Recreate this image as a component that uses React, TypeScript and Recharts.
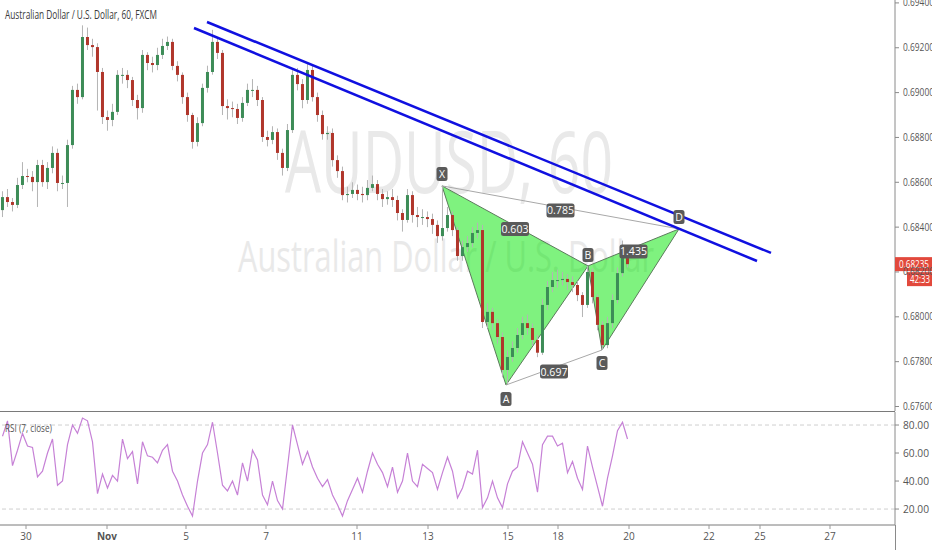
import React from 'react';
import {
  ComposedChart,
  Bar,
  Line,
  Area,
  XAxis,
  YAxis,
  ReferenceLine,
  ReferenceDot,
} from 'recharts';

// AUDUSD, resampled to ~3h bars
const firstOpen = 0.68476;
const closes = [
  0.68534, 0.68512, 0.68499, 0.68588, 0.68628, 0.68624, 0.68601, 0.68677, 0.68601, 0.68664,
  0.68731, 0.68597, 0.68597, 0.68766, 0.69012, 0.6898, 0.69248, 0.69212, 0.69203, 0.69092,
  0.68891, 0.68878, 0.68914, 0.69079, 0.69079, 0.69056, 0.68967, 0.68931, 0.69168, 0.69132,
  0.69123, 0.69168, 0.69208, 0.69226, 0.69119, 0.69079, 0.6898, 0.689, 0.6878, 0.68864,
  0.69021, 0.69092, 0.69226, 0.69177, 0.6894, 0.68931, 0.68927, 0.68887, 0.68954, 0.69012,
  0.69012, 0.68967, 0.68802, 0.68789, 0.68824, 0.68731, 0.68664, 0.68833, 0.69079, 0.69038,
  0.68967, 0.69101, 0.6898, 0.689, 0.68815, 0.6882, 0.68699, 0.6865, 0.68543, 0.68548,
  0.68566, 0.68548, 0.68543, 0.68575, 0.68592, 0.68548, 0.68525, 0.68534, 0.68521, 0.68463,
  0.68432, 0.68543, 0.68454, 0.68445, 0.68445, 0.68436, 0.6841, 0.6836, 0.68396, 0.68454,
  0.68387, 0.68271, 0.68311, 0.68329, 0.68374, 0.68387, 0.67977, 0.68022, 0.67972, 0.6791,
  0.67763, 0.67821, 0.67861, 0.67919, 0.67972, 0.6795, 0.67897, 0.6784, 0.68053, 0.68133,
  0.68164, 0.68164, 0.68169, 0.68155, 0.68142, 0.68097, 0.68053, 0.682, 0.68088, 0.67964,
  0.67874, 0.67972, 0.68075, 0.68195, 0.68262, 0.68235,
];
const highs = [
  0.6856, 0.6857, 0.6853, 0.6862, 0.6869, 0.6866, 0.6865, 0.687, 0.687, 0.6869,
  0.6876, 0.6875, 0.6863, 0.6879, 0.6903, 0.6904, 0.693, 0.6929, 0.6924, 0.6922,
  0.6911, 0.6892, 0.6895, 0.691, 0.6911, 0.691, 0.6907, 0.6899, 0.6919, 0.6918,
  0.6916, 0.692, 0.6924, 0.6925, 0.6924, 0.6914, 0.6909, 0.69, 0.6891, 0.6889,
  0.6904, 0.6912, 0.6928, 0.6924, 0.6919, 0.6897, 0.6896, 0.6895, 0.6898, 0.6904,
  0.6906, 0.6903, 0.6898, 0.6883, 0.6885, 0.6884, 0.6875, 0.6886, 0.691, 0.6911,
  0.6906, 0.69132, 0.6912, 0.69, 0.6892, 0.6885, 0.6884, 0.6872, 0.6867, 0.6858,
  0.686, 0.6859, 0.6858, 0.6861, 0.6863, 0.6861, 0.6857, 0.6856, 0.6857, 0.6854,
  0.6848, 0.6857, 0.6856, 0.6849, 0.6848, 0.6847, 0.6846, 0.6843, 0.68584, 0.6849,
  0.6847, 0.684, 0.6834, 0.6836, 0.684, 0.6842, 0.6841, 0.6806, 0.6804, 0.6799,
  0.6793, 0.6785, 0.6789, 0.6795, 0.68, 0.6801, 0.6797, 0.6792, 0.6808, 0.6816,
  0.682, 0.6821, 0.682, 0.6819, 0.6818, 0.6816, 0.6811, 0.68227, 0.68215, 0.681,
  0.6798, 0.68, 0.681, 0.6822, 0.6834, 0.6829,
];
const lows = [
  0.68445, 0.6849, 0.6847, 0.68485, 0.6857, 0.686, 0.6856, 0.6849, 0.6858, 0.6857,
  0.6864, 0.6856, 0.6857, 0.6849, 0.6875, 0.6895, 0.6897, 0.6919, 0.6916, 0.6892,
  0.6886, 0.6883, 0.6885, 0.689, 0.6904, 0.6902, 0.6894, 0.6888, 0.6891, 0.691,
  0.6909, 0.691, 0.6915, 0.6919, 0.691, 0.6905, 0.6895, 0.6887, 0.6875, 0.6876,
  0.6885, 0.69, 0.6908, 0.6915, 0.689, 0.6888, 0.6889, 0.6886, 0.6887, 0.6894,
  0.6898, 0.6894, 0.6878, 0.6876, 0.6877, 0.687, 0.6863, 0.6865, 0.6882, 0.6901,
  0.6893, 0.6895, 0.6896, 0.6887, 0.6879, 0.6879, 0.6867, 0.6862, 0.6852, 0.6851,
  0.6853, 0.6852, 0.6851, 0.6852, 0.6856, 0.6852, 0.6849, 0.685, 0.6849, 0.6843,
  0.6838, 0.6842, 0.6842, 0.684, 0.6841, 0.684, 0.6837, 0.6833, 0.6834, 0.6838,
  0.6836, 0.6825, 0.6825, 0.6829, 0.6831, 0.6835, 0.6795, 0.6795, 0.6794, 0.6788,
  0.6773, 0.67696, 0.678, 0.6784, 0.679, 0.6792, 0.6787, 0.6782, 0.6783, 0.6803,
  0.6811, 0.6813, 0.6814, 0.6812, 0.6811, 0.6807, 0.67999, 0.6804, 0.6806, 0.6794,
  0.67852, 0.6786, 0.6795, 0.6806, 0.6818, 0.6822,
];
const rsi = [
  72, 83, 51, 62, 74, 65, 64, 43, 47, 60,
  70, 37, 40, 66, 80, 74, 85, 83, 68, 31,
  45, 35, 44, 40, 70, 56, 61, 38, 68, 58,
  57, 53, 62, 66, 47, 40, 30, 22, 15, 40,
  60, 66, 82, 60, 37, 33, 40, 30, 53, 40,
  62, 55, 30, 23, 40, 26, 20, 50, 80, 66,
  52, 61, 50, 42, 36, 41, 30, 23, 15, 26,
  34, 42, 32, 47, 60, 52, 46, 36, 50, 32,
  40, 60, 40, 36, 52, 49, 46, 34, 46, 57,
  47, 28, 35, 47, 45, 62, 21, 28, 40, 28,
  21, 38, 47, 50, 68, 60, 52, 32, 66, 72,
  72, 65, 67, 46, 54, 42, 34, 65, 50, 36,
  22, 42, 58, 76, 82, 70,
];

// time axis (in bar units) and labels
const dayTicks = [5.2, 21.4, 37.2, 53.2, 71.4, 85.6, 101.6, 111.6, 125.8, 141.8, 152, 166];
const dayLabels = ['30', 'Nov', '5', '7', '11', '13', '15', '18', '20', '22', '25', '27'];
const priceTicks = [0.676, 0.678, 0.68, 0.682, 0.684, 0.686, 0.688, 0.69, 0.692, 0.694];
const rsiTicks = [20, 40, 60, 80];

// XABCD pattern (bar position, price)
const patternNames = ['X', 'A', 'B', 'C', 'D'];
const patternIdx = [88.4, 101.2, 117.6, 120.4, 135.8];
const patternPrice = [0.68584, 0.67696, 0.68227, 0.67852, 0.68392];
const ratioXB = '0.603';
const ratioAC = '0.697';
const ratioBD = '1.435';
const ratioXD = '0.785';

// trend lines: [startIdx, startPrice, endIdx, endPrice]
const upperTrend = [41.4, 0.69315, 154.2, 0.68285];
const lowerTrend = [38.8, 0.69288, 151.4, 0.68249];

const lastPrice = 0.68235;
const countdown = '42:33';

const X_DOMAIN: [number, number] = [0, 179];
const UP = '#3d8c57';
const DOWN = '#b0362b';
const WICK = '#b4b4b4';
const FONT = "'Open Sans', 'Liberation Sans', sans-serif";

const candles = closes.map((c, i) => {
  const open = i === 0 ? firstOpen : closes[i - 1];
  return {
    t: i + 0.5,
    open,
    close: c,
    high: highs[i],
    low: lows[i],
    range: [lows[i], highs[i]],
    rsi: rsi[i],
  };
});

const pts = patternIdx.map((t, k) => ({ t, p: patternPrice[k], name: patternNames[k] }));
const [X, A, B, C, D] = pts;
const lerpAt = (a: any, b: any, t: number) => a.p + ((b.p - a.p) * (t - a.t)) / (b.t - a.t);
const tri1 = [
  { t: X.t, band: [X.p, X.p] },
  { t: A.t, band: [A.p, lerpAt(X, B, A.t)] },
  { t: B.t, band: [B.p, B.p] },
];
const tri2 = [
  { t: B.t, band: [B.p, B.p] },
  { t: C.t, band: [C.p, lerpAt(B, D, C.t)] },
  { t: D.t, band: [D.p, D.p] },
];

function Candle(props: any) {
  const { x, y, width, height, payload } = props;
  if (!payload || height == null) return null;
  const { open, close, high, low } = payload;
  const top = Math.min(y, y + height);
  const h = Math.abs(height);
  const k = h / (high - low || 1);
  const cx = x + width / 2;
  const yO = top + (high - open) * k;
  const yC = top + (high - close) * k;
  const bodyTop = Math.min(yO, yC);
  const bodyH = Math.max(1, Math.abs(yO - yC));
  const col = close >= open ? UP : DOWN;
  return (
    <g>
      <line x1={cx} x2={cx} y1={top} y2={top + h} stroke={WICK} strokeWidth={1} />
      <rect x={cx - 1.5} y={bodyTop} width={3} height={bodyH} fill={col} />
    </g>
  );
}

function PriceTick(props: any) {
  const { x, y, payload } = props;
  return (
    <text x={x + 2} y={y + 3.5} fontSize={10} fill="#555" fontFamily={FONT} textLength={31} lengthAdjust="spacingAndGlyphs">
      {payload.value.toFixed(5)}
    </text>
  );
}

function RsiTick(props: any) {
  const { x, y, payload } = props;
  return (
    <text x={x + 2} y={y + 3.5} fontSize={10} fill="#555" fontFamily={FONT} textLength={26} lengthAdjust="spacingAndGlyphs">
      {payload.value.toFixed(2)}
    </text>
  );
}

function DayTick(props: any) {
  const { x, y, payload } = props;
  const k = dayTicks.indexOf(payload.value);
  const label = dayLabels[k] ?? '';
  return (
    <text x={x} y={y + 9} textAnchor="middle" fontSize={10} fill="#555" fontFamily={FONT} fontWeight={label === 'Nov' ? 700 : 400}>
      {label}
    </text>
  );
}

function Tag({ cx, cy, dy, text, w }: any) {
  const h = 14;
  return (
    <g>
      <rect x={cx - w / 2} y={cy + dy - h / 2} width={w} height={h} rx={2.5} fill="#5a5a5a" />
      <text x={cx} y={cy + dy + 4} textAnchor="middle" fontSize={10.5} fill="#fff" fontFamily={FONT}>
        {text}
      </text>
    </g>
  );
}

const letterOffset: Record<string, number> = { X: -12, A: 14, B: -11, C: 13, D: -12 };

function PriceBadge(props: any) {
  const { cx, cy } = props;
  return (
    <g>
      <rect x={cx} y={cy - 7} width={37} height={14} fill="#e2493c" />
      <text x={cx + 4} y={cy + 4} fontSize={10} fill="#fff" fontFamily={FONT} textLength={30} lengthAdjust="spacingAndGlyphs">
        {lastPrice.toFixed(5)}
      </text>
      <rect x={cx + 12} y={cy + 8} width={25} height={14} fill="#e2493c" />
      <text x={cx + 15} y={cy + 19} fontSize={10} fill="#fff" fontFamily={FONT} textLength={20} lengthAdjust="spacingAndGlyphs">
        {countdown}
      </text>
    </g>
  );
}

export default function App() {
  return (
    <div
      style={{
        position: 'absolute',
        left: 0,
        top: 0,
        width: 932,
        height: 550,
        background: '#fff',
        overflow: 'hidden',
        fontFamily: FONT,
      }}
    >
      {/* watermark */}
      <svg width={932} height={411} style={{ position: 'absolute', left: 0, top: 0 }}>
        <text x={285} y={193} fontSize={86} fill="#e9e9e9" fontFamily={FONT} textLength={328} lengthAdjust="spacingAndGlyphs">
          AUDUSD, 60
        </text>
        <text x={238} y={272} fontSize={44} fill="#e9e9e9" fontFamily={FONT} textLength={416} lengthAdjust="spacingAndGlyphs">
          Australian Dollar / U.S. Dollar
        </text>
      </svg>

      <div style={{ position: 'absolute', left: 0, top: 0 }}>
        <ComposedChart width={932} height={411} data={candles} margin={{ top: 0, right: 0, bottom: 0, left: 0 }}>
          <XAxis type="number" dataKey="t" domain={X_DOMAIN} hide allowDataOverflow />
          <YAxis
            orientation="right"
            width={37}
            domain={[0.6758, 0.69413]}
            ticks={priceTicks}
            interval={0}
            allowDataOverflow
            axisLine={{ stroke: '#8a8a8a' }}
            tickLine={{ stroke: '#8a8a8a' }}
            tickSize={4}
            tick={<PriceTick />}
          />
          <Bar dataKey="range" barSize={5} shape={Candle} isAnimationActive={false} />
          <Area
            data={tri1}
            dataKey="band"
            type="linear"
            fill="#00e600"
            fillOpacity={0.5}
            stroke="#5b7a5b"
            strokeWidth={1}
            dot={false}
            activeDot={false}
            isAnimationActive={false}
          />
          <Area
            data={tri2}
            dataKey="band"
            type="linear"
            fill="#00e600"
            fillOpacity={0.5}
            stroke="#5b7a5b"
            strokeWidth={1}
            dot={false}
            activeDot={false}
            isAnimationActive={false}
          />
          <ReferenceLine segment={[{ x: X.t, y: X.p }, { x: D.t, y: D.p }]} stroke="#a8a8a8" strokeWidth={1} />
          <ReferenceLine segment={[{ x: A.t, y: A.p }, { x: C.t, y: C.p }]} stroke="#a8a8a8" strokeWidth={1} />
          <ReferenceLine
            segment={[{ x: upperTrend[0], y: upperTrend[1] }, { x: upperTrend[2], y: upperTrend[3] }]}
            stroke="#1010e0"
            strokeWidth={2.5}
          />
          <ReferenceLine
            segment={[{ x: lowerTrend[0], y: lowerTrend[1] }, { x: lowerTrend[2], y: lowerTrend[3] }]}
            stroke="#1010e0"
            strokeWidth={2.5}
          />
          <ReferenceDot x={(X.t + B.t) / 2} y={(X.p + B.p) / 2} r={0} shape={(p: any) => <Tag cx={p.cx} cy={p.cy} dy={3} text={ratioXB} w={28} />} />
          <ReferenceDot x={(A.t + C.t) / 2} y={(A.p + C.p) / 2} r={0} shape={(p: any) => <Tag cx={p.cx} cy={p.cy} dy={4} text={ratioAC} w={28} />} />
          <ReferenceDot x={(B.t + D.t) / 2} y={(B.p + D.p) / 2} r={0} shape={(p: any) => <Tag cx={p.cx} cy={p.cy} dy={4} text={ratioBD} w={28} />} />
          <ReferenceDot x={(X.t + D.t) / 2} y={(X.p + D.p) / 2} r={0} shape={(p: any) => <Tag cx={p.cx} cy={p.cy} dy={3} text={ratioXD} w={28} />} />
          {pts.map((pt) => (
            <ReferenceDot
              key={pt.name}
              x={pt.t}
              y={pt.p}
              r={0}
              shape={(p: any) => <Tag cx={p.cx} cy={p.cy} dy={letterOffset[pt.name]} text={pt.name} w={11} />}
            />
          ))}
          <ReferenceDot x={X_DOMAIN[1]} y={lastPrice} r={0} shape={PriceBadge} />
        </ComposedChart>
      </div>

      <div style={{ position: 'absolute', left: 0, top: 411, width: 895, height: 1, background: '#7a7a7a' }} />

      <div style={{ position: 'absolute', left: 0, top: 412 }}>
        <ComposedChart width={932} height={138} data={candles} margin={{ top: 0, right: 0, bottom: 0, left: 0 }}>
          <XAxis
            type="number"
            dataKey="t"
            domain={X_DOMAIN}
            allowDataOverflow
            ticks={dayTicks}
            interval={0}
            height={25}
            axisLine={{ stroke: '#7a7a7a' }}
            tickLine={{ stroke: '#9a9a9a' }}
            tickSize={4}
            tick={<DayTick />}
          />
          <YAxis
            orientation="right"
            width={37}
            domain={[8.6, 89.3]}
            ticks={rsiTicks}
            interval={0}
            allowDataOverflow
            axisLine={{ stroke: '#8a8a8a' }}
            tickLine={{ stroke: '#8a8a8a' }}
            tickSize={4}
            tick={<RsiTick />}
          />
          <ReferenceLine y={80} stroke="#cfcfcf" strokeDasharray="4 3" />
          <ReferenceLine y={20} stroke="#cfcfcf" strokeDasharray="4 3" />
          <Line dataKey="rsi" type="linear" stroke="#c681d6" strokeWidth={1.2} dot={false} activeDot={false} isAnimationActive={false} />
        </ComposedChart>
      </div>

      <div style={{ position: 'absolute', left: 895, top: 525, width: 1, height: 25, background: '#8a8a8a' }} />

      <svg width={932} height={550} style={{ position: 'absolute', left: 0, top: 0, pointerEvents: 'none' }}>
        <text x={5} y={19} fontSize={12.5} fill="#3a3a3a" fontFamily={FONT} textLength={152} lengthAdjust="spacingAndGlyphs">
          Australian Dollar / U.S. Dollar, 60, FXCM
        </text>
        <text x={5} y={432} fontSize={11} fill="#555" fontFamily={FONT} textLength={47} lengthAdjust="spacingAndGlyphs">
          RSI (7, close)
        </text>
      </svg>
    </div>
  );
}
